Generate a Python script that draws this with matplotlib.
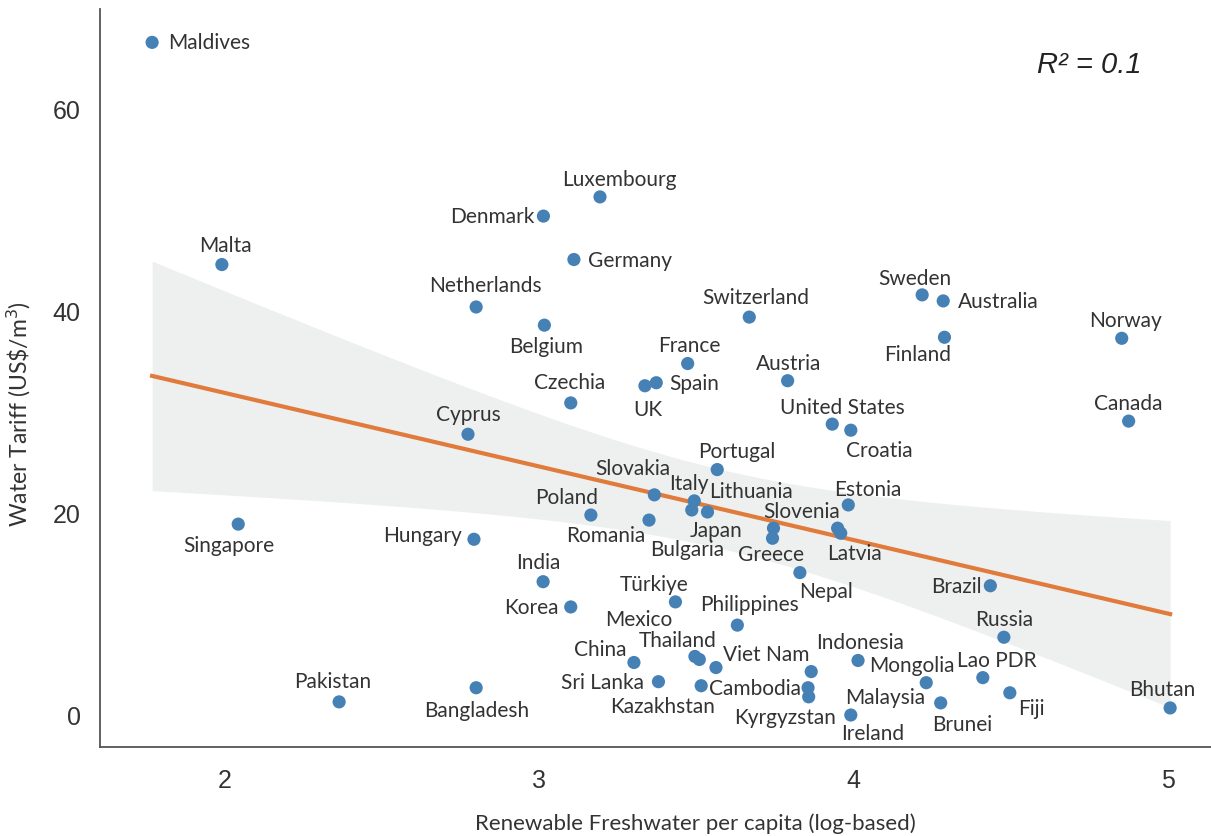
import numpy as np
import matplotlib
import matplotlib.pyplot as plt

matplotlib.use('Agg')

countries = ['Maldives', 'Malta', 'Singapore', 'Pakistan', 'Bangladesh', 'Netherlands',
             'Cyprus', 'Hungary', 'Denmark', 'Luxembourg', 'Germany', 'Belgium', 'Czechia',
             'India', 'Korea', 'Poland', 'Romania', 'Slovakia', 'Italy', 'Bulgaria', 'Japan',
             'Portugal', 'Switzerland', 'Austria', 'France', 'UK', 'Spain', 'Türkiye',
             'Philippines', 'China', 'Mexico', 'Thailand', 'Viet Nam', 'Sri Lanka',
             'Kazakhstan', 'Sweden', 'Australia', 'Finland', 'United States', 'Croatia',
             'Norway', 'Canada', 'Estonia', 'Lithuania', 'Greece', 'Slovenia', 'Latvia',
             'Nepal', 'Brazil', 'Russia', 'Indonesia', 'Cambodia', 'Kyrgyzstan', 'Mongolia',
             'Ireland', 'Malaysia', 'Brunei', 'Lao PDR', 'Fiji', 'Bhutan']
freshwater = [1.768, 1.990, 2.042, 2.363, 2.799, 2.799, 2.773, 2.792, 3.013, 3.193,
              3.110, 3.016, 3.100, 3.012, 3.100, 3.164, 3.349, 3.366, 3.493, 3.485,
              3.535, 3.566, 3.668, 3.790, 3.472, 3.336, 3.372, 3.433, 3.630, 3.301,
              3.495, 3.509, 3.562, 3.379, 3.515, 4.218, 4.285, 4.289, 3.932, 3.991,
              4.853, 4.875, 3.983, 3.745, 3.742, 3.949, 3.959, 3.829, 4.435, 4.478,
              3.865, 3.855, 3.857, 4.014, 3.991, 4.231, 4.277, 4.411, 4.497, 5.007]
tariff = [66.5, 44.5, 18.8, 1.2, 2.6, 40.3, 27.7, 17.3, 49.3, 51.2,
          45.0, 38.5, 30.8, 13.1, 10.6, 19.7, 19.2, 21.7, 21.1, 20.2,
          20.0, 24.2, 39.3, 33.0, 34.7, 32.5, 32.8, 11.1, 8.8, 5.1,
          5.7, 5.4, 4.6, 3.2, 2.8, 41.5, 40.9, 37.3, 28.7, 28.1,
          37.2, 29.0, 20.7, 18.4, 17.4, 18.4, 17.9, 14.0, 12.7, 7.6,
          4.2, 2.6, 1.7, 5.3, -0.1, 3.1, 1.1, 3.6, 2.1, 0.6]
r2_text = '0.1'

# label offsets in pixels (dx, dy up) from the dot
label_offsets = {
    'Maldives': (57, 0), 'Malta': (4, 20), 'Singapore': (-9, -21), 'Pakistan': (-6, 21),
    'Bangladesh': (1, -22), 'Netherlands': (9, 22), 'Cyprus': (0, 20), 'Hungary': (-51, 4),
    'Denmark': (-51, 0), 'Luxembourg': (19, 18), 'Germany': (56, 0), 'Belgium': (2, -21),
    'Czechia': (-1, 21), 'India': (-5, 20), 'Korea': (-39, 0), 'Poland': (-24, 18),
    'Romania': (-43, -15), 'Slovakia': (-22, 27), 'Italy': (-5, 18), 'Lithuania': (-22, 37),
    'Japan': (9, -18), 'Bulgaria': (-5, -39), 'Portugal': (20, 19), 'Switzerland': (6, 20),
    'France': (2, 19), 'UK': (3, -23), 'Spain': (38, 0), 'Austria': (1, 18),
    'United States': (10, 17), 'Croatia': (29, -20), 'Sweden': (-7, 17), 'Australia': (55, 0),
    'Finland': (-27, -17), 'Norway': (4, 18), 'Canada': (0, 18), 'Estonia': (20, 16),
    'Slovenia': (-36, 17), 'Latvia': (14, -20), 'Greece': (-2, -16), 'Nepal': (26, -18),
    'Brazil': (-34, 0), 'Russia': (0, 18), 'Indonesia': (49, 30), 'Mongolia': (54, -5),
    'Malaysia': (-41, -14), 'Brunei': (21, -21), 'Lao PDR': (14, 18), 'Fiji': (22, -15),
    'Bhutan': (-8, 19), 'Ireland': (22, -18), 'Kyrgyzstan': (-24, -20), 'Cambodia': (-53, 0),
    'Viet Nam': (50, 14), 'Kazakhstan': (-39, -20), 'Sri Lanka': (-56, 0), 'Thailand': (-22, 19),
    'Mexico': (-56, 37), 'China': (-34, 13), 'Türkiye': (-21, 18), 'Philippines': (12, 21),
}

x = np.array(freshwater)
y = np.array(tariff)

# linear fit with 95% confidence band
slope, intercept = np.polyfit(x, y, 1)
xs = np.linspace(x.min(), x.max(), 200)
ys = slope * xs + intercept
n = len(x)
resid = y - (slope * x + intercept)
s_err = np.sqrt(np.sum(resid ** 2) / (n - 2))
sxx = np.sum((x - x.mean()) ** 2)
ci = 2.002 * s_err * np.sqrt(1 / n + (xs - x.mean()) ** 2 / sxx)

plt.rcParams['font.family'] = ['Lato', 'DejaVu Sans']
text_color = '#333333'

fig = plt.figure(figsize=(12.11, 8.37), dpi=100)
ax = fig.add_axes([0.0826, 0.1063, 0.9174, 0.8817])

ax.fill_between(xs, ys - ci, ys + ci, color='#eef0f0', lw=0, zorder=1)
ax.plot(xs, ys, color='#e07b3c', lw=3.0, zorder=2)
ax.scatter(x, y, s=90, color='#4681b6', edgecolor='none', zorder=3)

for name, xv, yv in zip(countries, x, y):
    dx, dy = label_offsets[name]
    ax.annotate(name, (xv, yv), xytext=(dx, dy), textcoords='offset pixels',
                ha='center', va='center', fontsize=15, color=text_color, zorder=4)

ax.text(0.938, 0.925, 'R² = ' + r2_text, transform=ax.transAxes, ha='right', va='center',
        fontsize=21, style='italic', color='#222222', family='Liberation Sans')

ax.set_xlim(1.6023, 5.137)
ax.set_ylim(-3.27, 69.8)
ax.set_xticks([2, 3, 4, 5])
ax.set_yticks([0, 20, 40, 60])
ax.tick_params(length=0, labelsize=18, labelcolor=text_color)
ax.tick_params(axis='x', pad=15)
ax.tick_params(axis='y', pad=14)
for lab in ax.get_xticklabels() + ax.get_yticklabels():
    lab.set_family('Liberation Sans')

ax.set_xlabel('Renewable Freshwater per capita (log-based)', fontsize=16, color=text_color,
              labelpad=15, x=0.536)
ax.set_ylabel(r'Water Tariff (US\$/m$^3$)', fontsize=16.5, color=text_color,
              labelpad=14, y=0.453)

for side in ['top', 'right']:
    ax.spines[side].set_visible(False)
for side in ['left', 'bottom']:
    ax.spines[side].set_color('#555555')
    ax.spines[side].set_linewidth(1.3)

plt.savefig('out.png', dpi=100)
